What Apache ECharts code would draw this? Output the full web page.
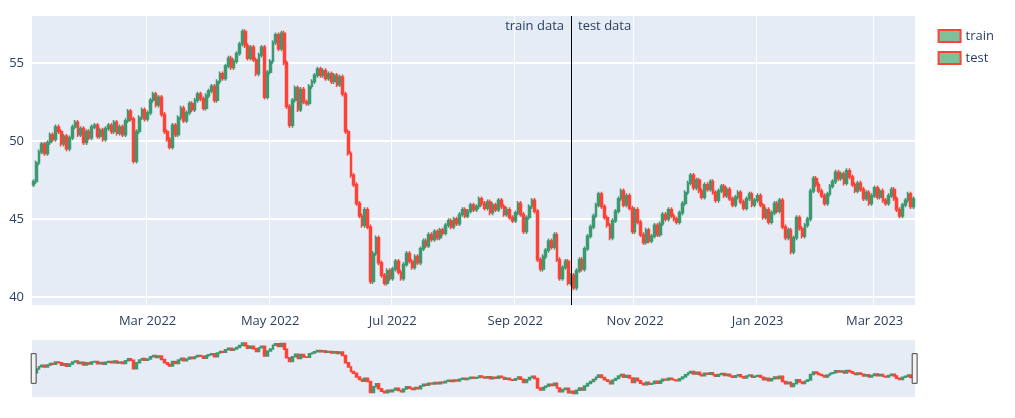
<!DOCTYPE html>
<html>
<head>
<meta charset="utf-8">
<script src="https://cdn.jsdelivr.net/npm/echarts@6/dist/echarts.min.js"></script>
<style>html,body{margin:0;padding:0;background:#fff}#chart{width:1015px;height:418px}</style>
</head>
<body>
<div id="chart"></div>
<script>
// daily closes (weekdays); open = previous close
var trainClose = [
	47.4,48.6,49.3,49.8,49.2,49.9,50.4,50.1,50.9,50.6,49.8,50.3,49.5,50.2,50.9,51.2,50.4,50.8,49.9,50.6,50.2,
	50.9,51.0,50.3,50.7,50.1,50.8,51.0,50.6,51.2,50.5,50.9,50.4,51.3,51.9,51.4,48.7,50.6,51.5,52.0,51.4,
	51.8,52.6,53.0,52.3,52.8,51.7,50.6,50.1,49.6,51.0,50.4,51.5,52.1,51.3,51.8,52.4,52.0,52.6,53.0,52.7,52.1,52.9,53.2,
	53.5,52.6,53.8,54.3,54.0,54.8,55.3,54.7,55.1,55.6,56.2,57.0,56.1,55.3,56.0,55.2,54.3,55.5,56.0,52.8,54.4,
	55.1,56.3,56.8,55.9,56.9,55.0,52.2,51.0,52.6,53.4,52.0,53.3,52.5,52.4,53.5,53.8,54.2,54.6,54.2,54.5,54.0,54.3,
	53.8,54.2,53.6,54.1,53.0,50.6,49.2,47.8,47.2,46.0,45.2,44.6,45.6,44.5,41.0,42.8,43.8,42.2,41.4,40.9,41.7,41.2,
	41.8,42.3,41.6,41.2,42.1,42.8,42.3,41.9,42.6,42.2,43.1,43.6,43.3,44.0,43.7,44.2,43.8,44.3,44.1,44.6,44.9,
	44.5,45.0,44.7,45.3,45.6,45.2,45.5,45.9,45.6,45.8,46.3,46.0,45.7,46.1,45.4,45.9,45.6,46.2,45.8,45.3,45.6,45.1,44.9,
	45.4,46.0,45.3,44.2,45.1,45.8,46.2,45.5,42.4,41.8,42.6,43.0,43.6,43.2,44.0,42.4,41.2,41.9,42.3,40.9,41.4,40.6
];
var testClose = [
	41.7,42.4,41.8,43.1,43.9,44.5,45.2,45.9,46.6,45.8,45.1,44.6,43.8,44.9,45.5,46.3,46.8,45.9,46.5,45.7,44.2,
	45.6,44.8,44.0,43.5,44.3,43.6,43.9,44.6,44.0,44.7,45.3,45.0,45.6,45.2,45.0,44.8,45.4,46.0,46.7,47.3,47.8,47.0,
	47.5,46.8,46.4,47.2,46.9,47.4,46.7,46.2,46.8,47.1,46.5,46.9,46.3,45.9,46.4,46.7,46.1,45.7,46.3,46.6,45.9,46.2,
	46.5,45.9,45.1,45.6,44.8,45.4,46.0,45.5,46.2,44.5,43.8,44.3,42.9,43.8,45.1,44.4,43.9,44.6,45.0,46.8,47.6,47.2,
	46.8,46.5,46.0,46.6,47.1,47.4,48.0,47.6,47.9,47.3,48.1,47.7,47.2,46.8,47.3,46.9,46.3,46.7,46.0,46.5,
	47.0,46.4,46.8,46.2,46.0,46.5,46.9,46.3,45.6,45.2,45.9,46.2,46.6,45.8,46.3
];
var firstOpen = 47.2;
var tickMonths = ['2022-03','2022-05','2022-07','2022-09','2022-11','2023-01','2023-03'];
var yTicks = [40, 45, 50, 55];

var months = ['Jan','Feb','Mar','Apr','May','Jun','Jul','Aug','Sep','Oct','Nov','Dec'];
var allClose = trainClose.concat(testClose);
var dates = [];
var d = new Date(Date.UTC(2022, 0, 3));
while (dates.length < allClose.length) {
	var wd = d.getUTCDay();
	if (wd != 0 && wd != 6) dates.push(d.toISOString().slice(0, 10));
	d.setUTCDate(d.getUTCDate() + 1);
}
var trainData = [], testData = [];
for (var i = 0; i < allClose.length; i++) {
	var o = i == 0 ? firstOpen : allClose[i - 1];
	var c = allClose[i];
	var k = [o, c, Math.min(o, c) - 0.15, Math.max(o, c) + 0.15];
	if (i < trainClose.length) { trainData.push(k); testData.push('-'); }
	else { testData.push(k); trainData.push('-'); }
}
var tickIdx = {};
tickMonths.forEach(function (m) {
	for (var j = 0; j < dates.length; j++) if (dates[j].slice(0, 7) == m) { tickIdx[j] = m; break; }
});
function isTick(idx) { return tickIdx[idx] !== undefined; }

var candleStyle = { color: '#3D9970', color0: '#FF4136', borderColor: '#3D9970', borderColor0: '#FF4136', borderWidth: 1.5 };
var chart = echarts.init(document.getElementById('chart'));
var splitIdx = trainClose.length;
var option = {
	animation: false,
	textStyle: { fontFamily: 'Open Sans, sans-serif', color: '#2a3f5f' },
	legend: {
		orient: 'vertical', right: 16, top: 24, itemGap: 8, itemWidth: 22, itemHeight: 12,
		textStyle: { fontSize: 13, color: '#2a3f5f' },
		data: [
			{ name: 'train', icon: 'rect', itemStyle: { color: '#7fbf9a', borderColor: '#FF4136', borderWidth: 2 } },
			{ name: 'test', icon: 'rect', itemStyle: { color: '#7fbf9a', borderColor: '#FF4136', borderWidth: 2 } }
		]
	},
	grid: [
		{ left: 32, right: 100, top: 16, bottom: 113, show: true, backgroundColor: '#E5ECF6', borderWidth: 0 },
		{ left: 32, right: 100, top: 340, bottom: 21, show: true, backgroundColor: '#E5ECF6', borderWidth: 0 }
	],
	xAxis: [
		{
			type: 'category', data: dates, gridIndex: 0, boundaryGap: true,
			axisLine: { show: false }, axisTick: { show: false },
			axisLabel: {
				interval: function (idx) { return isTick(idx); },
				formatter: function (v) { var p = v.split('-'); return months[+p[1] - 1] + ' ' + p[0]; },
				fontSize: 13, color: '#2a3f5f', margin: 10
			},
			splitLine: { show: true, interval: function (idx) { return isTick(idx); }, lineStyle: { color: '#fff', width: 1 } }
		},
		{ type: 'category', data: dates, gridIndex: 1, show: false }
	],
	yAxis: [
		{
			type: 'value', gridIndex: 0, min: 39.5, max: 58, scale: true,
			axisLine: { show: false },
			axisTick: { show: false, customValues: yTicks },
			axisLabel: { customValues: yTicks, fontSize: 13, color: '#2a3f5f', margin: 8 },
			splitLine: { lineStyle: { color: '#fff', width: 2 } }
		},
		{ type: 'value', gridIndex: 1, min: 39.5, max: 58, show: false, splitLine: { show: false } }
	],
	dataZoom: [{
		type: 'slider', xAxisIndex: [1], start: 0, end: 100, left: 32, right: 100, top: 340, height: 57,
		showDataShadow: false, showDetail: false, backgroundColor: 'rgba(0,0,0,0)', fillerColor: 'rgba(0,0,0,0)',
		borderColor: 'rgba(0,0,0,0)', handleSize: '52%',
		handleIcon: 'path://M0,0 L5,0 L5,30 L0,30 Z',
		handleStyle: { color: '#f2f2f2', borderColor: '#444', borderWidth: 1 },
		moveHandleSize: 0, brushSelect: false, zoomLock: true
	}],
	series: [
		{
			name: 'train', type: 'candlestick', xAxisIndex: 0, yAxisIndex: 0, data: trainData, itemStyle: candleStyle, barWidth: '85%',
			markLine: {
				silent: true, symbol: 'none', label: { show: false },
				lineStyle: { color: '#000', width: 1, type: 'solid' },
				data: [{ xAxis: splitIdx - 2 }]
			}
		},
		{ name: 'test', type: 'candlestick', xAxisIndex: 0, yAxisIndex: 0, data: testData, itemStyle: candleStyle, barWidth: '85%' },
		{ name: 'train', type: 'candlestick', xAxisIndex: 1, yAxisIndex: 1, data: trainData, itemStyle: candleStyle, barWidth: '85%' },
		{ name: 'test', type: 'candlestick', xAxisIndex: 1, yAxisIndex: 1, data: testData, itemStyle: candleStyle, barWidth: '85%' }
	]
};
chart.setOption(option);
var lx = chart.convertToPixel({ xAxisIndex: 0 }, splitIdx - 2);
chart.setOption({
	graphic: [
		{ type: 'text', x: lx - 7, y: 20, style: { text: 'train data', align: 'right', fill: '#2a3f5f', fontSize: 13, fontFamily: 'Open Sans, sans-serif' } },
		{ type: 'text', x: lx + 7, y: 20, style: { text: 'test data', align: 'left', fill: '#2a3f5f', fontSize: 13, fontFamily: 'Open Sans, sans-serif' } }
	]
});
</script>
</body>
</html>
